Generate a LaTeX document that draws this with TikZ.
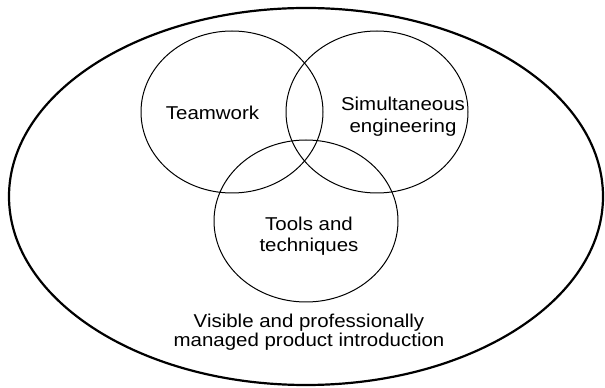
\documentclass[tikz,border=0pt]{standalone}
\usepackage{fontspec}
\newfontfamily\setfont[FakeStretch=1.1]{Liberation Sans}
\begin{document}
\begin{tikzpicture}[x=1pt,y=1pt,
  set/.style={line width=1pt},
  whole/.style={line width=2.2pt},
  lbl/.style={align=center,inner sep=0pt,font=\setfont\fontsize{18.6}{21.5}\selectfont}]
\useasboundingbox (0,0) rectangle (605,388);
\draw[whole] (306,191.5) ellipse [x radius=297pt, y radius=188.5pt];
\draw[set] (232,276) ellipse [x radius=91pt, y radius=81pt];
\draw[set] (377,276) ellipse [x radius=91pt, y radius=81pt];
\draw[set] (306,167) ellipse [x radius=92pt, y radius=81pt];
\node[lbl] (team) at (212.5,275) {Teamwork};
\node[lbl] (simeng) at (403,271.5) {Simultaneous\\engineering};
\node[lbl] (tools) at (309,152) {Tools and\\techniques};
\node[lbl,font=\setfont\fontsize{18.6}{19}\selectfont] (npi) at (309,55.5) {Visible and professionally\\managed product introduction};
\end{tikzpicture}
\end{document}
